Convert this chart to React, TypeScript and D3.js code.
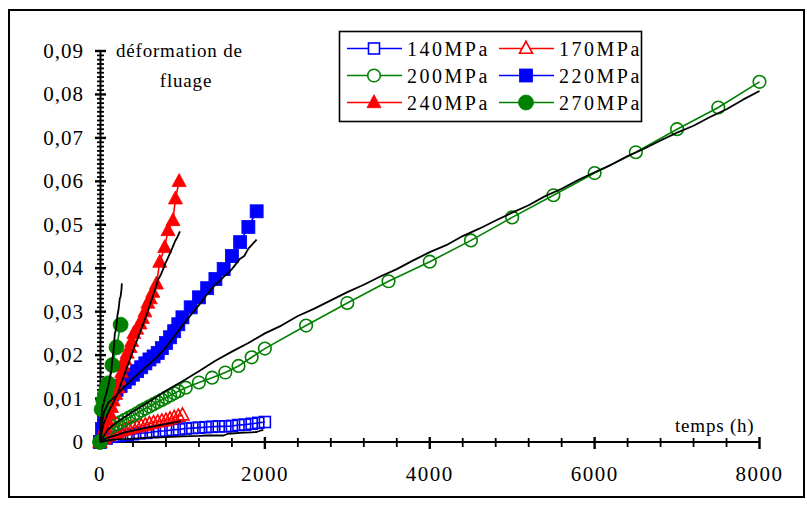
import React from 'react';
import * as d3 from 'd3';

// ---- data (time in h, creep strain) ----
const T140 = [0, 80, 160, 240, 320, 400, 480, 560, 640, 720, 800, 880, 960, 1040, 1120, 1200, 1280, 1360, 1440, 1520, 1600, 1680, 1760, 1840, 1920, 2000];
const E140 = [0, 0.0008, 0.0012, 0.0014, 0.0016, 0.0018, 0.002, 0.0021, 0.0023, 0.0025, 0.0026, 0.0028, 0.0029, 0.0031, 0.0032, 0.0033, 0.0034, 0.0035, 0.0036, 0.0036, 0.0037, 0.0039, 0.004, 0.0042, 0.0044, 0.0046];

const T170 = [0, 50, 100, 150, 200, 250, 300, 350, 400, 450, 500, 550, 600, 650, 700, 750, 800, 850, 900, 950, 1000];
const E170 = [0, 0.0008, 0.0014, 0.0018, 0.0022, 0.0025, 0.0028, 0.003, 0.0033, 0.0035, 0.0037, 0.0039, 0.0042, 0.0044, 0.0046, 0.0048, 0.005, 0.0053, 0.0056, 0.0059, 0.0062];

const T200 = [0, 100, 150, 200, 250, 300, 350, 400, 450, 500, 550, 600, 650, 700, 750, 800, 850, 900, 950, 1040, 1200, 1360, 1520, 1680, 1840, 2000, 2500, 3000, 3500, 4000, 4500, 5000, 5500, 6000, 6500, 7000, 7500, 8000];
const E200 = [0, 0.003, 0.0036, 0.0041, 0.0046, 0.0051, 0.0056, 0.0061, 0.0066, 0.0072, 0.0077, 0.0082, 0.0087, 0.0092, 0.0097, 0.0102, 0.0107, 0.0112, 0.0117, 0.0125, 0.0137, 0.0148, 0.016, 0.0175, 0.0195, 0.0215, 0.0268, 0.032, 0.037, 0.0415, 0.0464, 0.0517, 0.0568, 0.0619, 0.0667, 0.072, 0.077, 0.0829];

const T220 = [0, 25, 50, 100, 150, 200, 250, 300, 350, 400, 450, 500, 550, 600, 650, 700, 750, 800, 850, 900, 950, 1000, 1100, 1200, 1300, 1400, 1500, 1600, 1700, 1800, 1900];
const E220 = [0, 0.003, 0.006, 0.0095, 0.011, 0.012, 0.0129, 0.0138, 0.0146, 0.0155, 0.0163, 0.0172, 0.0181, 0.019, 0.0197, 0.0205, 0.0216, 0.0228, 0.0241, 0.0255, 0.0271, 0.0287, 0.031, 0.0333, 0.0354, 0.0375, 0.0398, 0.0428, 0.046, 0.0495, 0.0531];

const T240 = [0, 20, 40, 60, 90, 120, 140, 160, 190, 222, 240, 262, 280, 300, 330, 365, 385, 410, 445, 485, 515, 545, 580, 610, 640, 685, 725, 785, 825, 885, 915, 960];
const E240 = [0, 0.0007, 0.002, 0.0033, 0.005, 0.0065, 0.008, 0.0095, 0.011, 0.0125, 0.0143, 0.016, 0.0175, 0.019, 0.0205, 0.0218, 0.0232, 0.025, 0.026, 0.0272, 0.0285, 0.03, 0.032, 0.033, 0.0345, 0.0364, 0.0414, 0.0448, 0.0487, 0.051, 0.056, 0.06];

const T270 = [0, 20, 40, 60, 80, 100, 150, 200, 250];
const E270 = [0, 0.0075, 0.0095, 0.011, 0.0122, 0.0135, 0.0177, 0.0218, 0.027];

// experimental (black) curves
const BT140 = [0, 100, 200, 400, 600, 800, 1000, 1200, 1300, 1500, 1550, 1700, 1900, 1960, 1980];
const BE140 = [0, 0.0004, 0.0006, 0.0008, 0.001, 0.0011, 0.0013, 0.0014, 0.0015, 0.0015, 0.0019, 0.0021, 0.0023, 0.0027, 0.0028];
const BT170 = [0, 50, 100, 300, 500, 700, 900, 980];
const BE170 = [0, 0.0006, 0.001, 0.0022, 0.003, 0.0038, 0.0045, 0.0048];
const BT200 = [0, 50, 100, 200, 400, 600, 800, 1000, 1200, 1400, 1600, 1800, 2000, 2200, 2400, 2600, 2800, 3000, 3200, 3400, 3600, 3800, 4000, 4200, 4400, 4600, 4800, 5000, 5200, 5400, 5600, 5800, 6000, 6200, 6400, 6600, 6800, 7000, 7200, 7400, 7600, 7800, 8000];
const BE200 = [0, 0.0015, 0.003, 0.0045, 0.007, 0.0093, 0.0118, 0.014, 0.0163, 0.0187, 0.0208, 0.0228, 0.025, 0.0268, 0.029, 0.0307, 0.0326, 0.0345, 0.0362, 0.0381, 0.0398, 0.0418, 0.0437, 0.0453, 0.0474, 0.0491, 0.051, 0.0528, 0.0545, 0.0566, 0.0583, 0.0603, 0.0621, 0.0638, 0.0658, 0.0675, 0.0694, 0.0712, 0.0728, 0.0748, 0.0766, 0.0788, 0.0808];
const BT220 = [0, 20, 50, 100, 200, 300, 400, 500, 600, 700, 800, 900, 1000, 1100, 1200, 1300, 1350, 1400, 1500, 1550, 1600, 1700, 1750, 1800, 1900];
const BE220 = [0, 0.004, 0.007, 0.009, 0.0108, 0.0128, 0.0146, 0.0163, 0.018, 0.0197, 0.0218, 0.0243, 0.0268, 0.0292, 0.0315, 0.034, 0.0352, 0.0362, 0.038, 0.0388, 0.0398, 0.0422, 0.0428, 0.0445, 0.0466];
const BT240 = [0, 40, 100, 160, 220, 280, 340, 400, 460, 520, 580, 610, 640, 670, 700, 730, 760, 790, 820, 850, 880, 910, 940, 970];
const BE240 = [0, 0.004, 0.0068, 0.009, 0.0115, 0.0148, 0.0178, 0.021, 0.024, 0.027, 0.03, 0.0318, 0.0335, 0.0352, 0.0372, 0.0382, 0.0395, 0.041, 0.0422, 0.0435, 0.0448, 0.0462, 0.0472, 0.0485];
const BT270 = [0, 5, 10, 20, 30, 45, 60, 75, 90, 105, 120, 135, 150, 165, 180, 195, 210, 225, 240, 250, 260, 265];
const BE270 = [0, 0.003, 0.005, 0.0065, 0.008, 0.009, 0.0102, 0.011, 0.0122, 0.0133, 0.0148, 0.016, 0.019, 0.021, 0.025, 0.026, 0.029, 0.0305, 0.033, 0.0335, 0.035, 0.0365];

const Y_TICKS = [0, 0.01, 0.02, 0.03, 0.04, 0.05, 0.06, 0.07, 0.08, 0.09];
const Y_LABELS = ['0', '0,01', '0,02', '0,03', '0,04', '0,05', '0,06', '0,07', '0,08', '0,09'];
const X_TICKS = [0, 2000, 4000, 6000, 8000];
const X_LABELS = ['0', '2000', '4000', '6000', '8000'];

const BLUE = '#0000FF';
const RED = '#FF0000';
const GREEN = '#008000';

type Kind = 'sq' | 'tri' | 'circ';
const SERIES = [
  { name: '140MPa', t: T140, e: E140, color: BLUE, kind: 'sq' as Kind, filled: false },
  { name: '170MPa', t: T170, e: E170, color: RED, kind: 'tri' as Kind, filled: false },
  { name: '200MPa', t: T200, e: E200, color: GREEN, kind: 'circ' as Kind, filled: false },
  { name: '220MPa', t: T220, e: E220, color: BLUE, kind: 'sq' as Kind, filled: true },
  { name: '240MPa', t: T240, e: E240, color: RED, kind: 'tri' as Kind, filled: true },
  { name: '270MPa', t: T270, e: E270, color: GREEN, kind: 'circ' as Kind, filled: true },
];
const BLACK = [
  { t: BT140, e: BE140 }, { t: BT170, e: BE170 }, { t: BT200, e: BE200 },
  { t: BT220, e: BE220 }, { t: BT240, e: BE240 }, { t: BT270, e: BE270 },
];

const FONT = { fontFamily: "'Liberation Serif'" };

function Marker({ cx, cy, kind, filled, color, legend }: { cx: number; cy: number; kind: Kind; filled: boolean; color: string; legend?: boolean }) {
  const fill = filled ? color : 'white';
  const sw = filled ? 0.8 : 1.6;
  if (kind === 'sq') {
    const s = filled ? 13 : 11;
    return <rect x={cx - s / 2} y={cy - s / 2} width={s} height={s} fill={legend || filled ? fill : 'none'} stroke={color} strokeWidth={sw} />;
  }
  if (kind === 'tri') {
    const w = filled ? 14 : 13;
    const h = filled ? 13 : 12;
    const p = `${cx},${cy - h * 0.6} ${cx + w / 2},${cy + h * 0.4} ${cx - w / 2},${cy + h * 0.4}`;
    return <polygon points={p} fill={legend || filled ? fill : 'none'} stroke={color} strokeWidth={sw} strokeLinejoin="miter" />;
  }
  const r = filled ? 7.5 : 6.3;
  return <circle cx={cx} cy={cy} r={r} fill={legend || filled ? fill : 'none'} stroke={color} strokeWidth={sw} />;
}

export default function App() {
  const x = d3.scaleLinear().domain([0, 8000]).range([100, 759.5]);
  const y = d3.scaleLinear().domain([0, 0.09]).range([442, 51]);
  const line = d3.line<[number, number]>().x(d => x(d[0])).y(d => y(d[1]));
  const pts = (t: number[], e: number[]) => t.map((v, i) => [v, e[i]] as [number, number]);

  const yMinor = d3.range(0, 91).map(i => i / 1000);
  const xMinor = d3.range(0, 21).map(i => i * 400);

  const legendCols = [
    { lx1: 347, lx2: 402, mx: 374, tx: 407 },
    { lx1: 499, lx2: 554, mx: 526, tx: 559 },
  ];
  const legendRows = [48.5, 75.5, 102.5];

  return (
    <svg width={807} height={512} style={{ position: 'absolute', left: 0, top: 0, background: 'white' }}>
      <rect x={0} y={0} width={807} height={512} fill="white" />
      <rect x={9} y={10} width={795} height={487} fill="none" stroke="black" strokeWidth={2} />

      {/* axes */}
      <line x1={100.5} y1={y(0.09)} x2={100.5} y2={y(0)} stroke="black" strokeWidth={2} />
      <line x1={x(0)} y1={442} x2={x(8000)} y2={442} stroke="black" strokeWidth={2} />
      {yMinor.map((v, i) => {
        const major = i % 10 === 0;
        return <line key={'ym' + i} x1={major ? 95 : 97} x2={major ? 106 : 104} y1={y(v)} y2={y(v)} stroke="black" strokeWidth={major ? 2.4 : 1.8} />;
      })}
      {xMinor.map((v, i) => {
        const major = i % 5 === 0;
        return <line key={'xm' + i} x1={x(v)} x2={x(v)} y1={major ? 437 : 438} y2={major ? 449 : 447} stroke="black" strokeWidth={major ? 2.4 : 1.8} />;
      })}
      {Y_TICKS.map((v, i) => (
        <text key={'yl' + i} x={84} y={y(v) + 7} textAnchor="end" fontSize={21} letterSpacing={1} style={FONT}>{Y_LABELS[i]}</text>
      ))}
      {X_TICKS.map((v, i) => (
        <text key={'xl' + i} x={x(v)} y={481} textAnchor="middle" fontSize={21} letterSpacing={1.5} style={FONT}>{X_LABELS[i]}</text>
      ))}

      <text x={116} y={57} fontSize={19} letterSpacing={0.8} style={FONT}>déformation de</text>
      <text x={186} y={87} fontSize={19} textAnchor="middle" letterSpacing={0.8} style={FONT}>fluage</text>
      <text x={675} y={432} fontSize={19} letterSpacing={0.8} style={FONT}>temps (h)</text>

      {/* series */}
      {SERIES.map(s => (
        <g key={s.name}>
          <path d={line(pts(s.t, s.e)) || ''} fill="none" stroke={s.color} strokeWidth={1.6} />
          {s.t.map((tv, i) => (
            <Marker key={i} cx={x(tv)} cy={y(s.e[i])} kind={s.kind} filled={s.filled} color={s.color} />
          ))}
        </g>
      ))}
      {BLACK.map((b, i) => (
        <path key={'b' + i} d={line(pts(b.t, b.e)) || ''} fill="none" stroke="black" strokeWidth={1.8} strokeLinejoin="round" />
      ))}

      {/* legend */}
      <rect x={339.5} y={31.5} width={302} height={90} fill="white" stroke="black" strokeWidth={1.6} />
      {SERIES.map((s, i) => {
        const c = legendCols[i % 2];
        const ry = legendRows[Math.floor(i / 2)];
        return (
          <g key={'lg' + i}>
            <line x1={c.lx1} x2={c.lx2} y1={ry} y2={ry} stroke={s.color} strokeWidth={1.6} />
            <Marker cx={c.mx} cy={ry} kind={s.kind} filled={s.filled} color={s.color} legend />
            <text x={c.tx} y={ry + 7} fontSize={20} letterSpacing={2.5} style={FONT}>{s.name}</text>
          </g>
        );
      })}
    </svg>
  );
}
